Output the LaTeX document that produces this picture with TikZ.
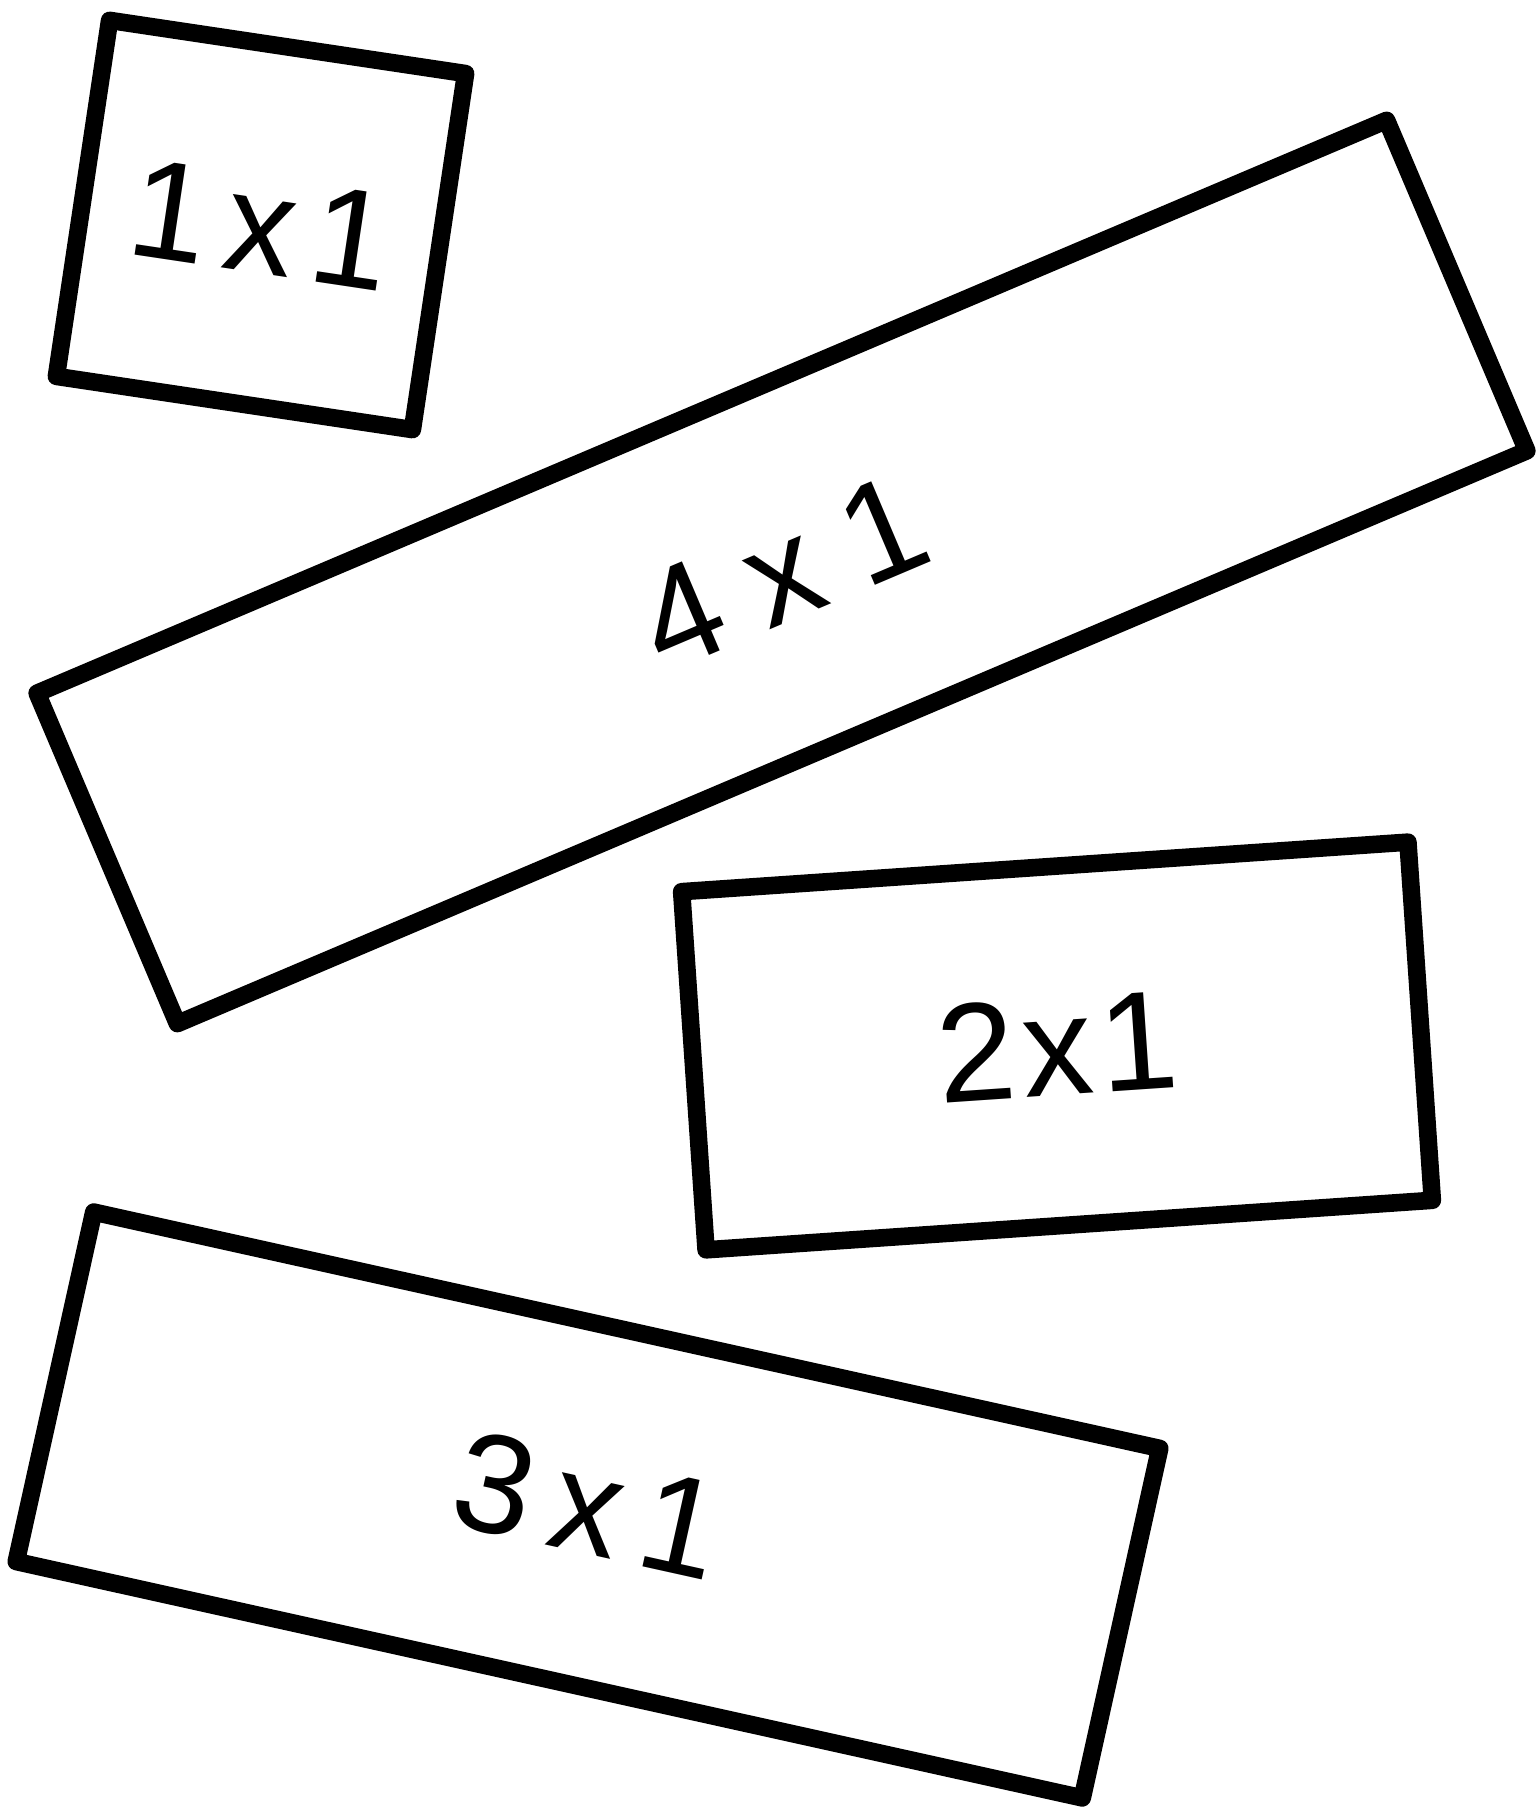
\documentclass[tikz,border=0pt]{standalone}
\usepackage{fontspec}
\setmainfont{Liberation Sans}
\begin{document}
\begin{tikzpicture}[
    tile/.style={draw, line width=5pt, line join=round, inner sep=0pt, minimum height=3.59cm, font=\fontsize{40}{48}\selectfont},
]
\useasboundingbox (0,0) rectangle (15.37,18.07);
% ----- the four tiles, each turned a little
\node[tile, minimum width=3.60cm, minimum height=3.60cm, rotate=-8.5] (one) at (2.61,15.82) {1\kern5pt x\kern5pt 1};
\node[tile, minimum width=14.66cm, rotate=23] (four) at (7.82,12.35) {4\kern10pt x\kern10pt 1};
\node[tile, minimum width=7.28cm, rotate=3.9] (two) at (10.57,7.61) {2\kern2pt x\kern2pt 1};
\node[tile, minimum width=10.92cm, minimum height=3.58cm, rotate=-12.5] (three) at (5.88,3.02) {3\kern6pt x\kern6pt 1};
\end{tikzpicture}
\end{document}
